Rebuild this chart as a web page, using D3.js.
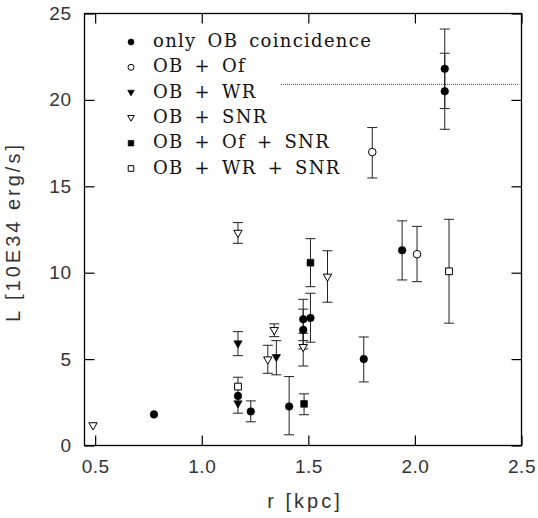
<!DOCTYPE html>
<html>
<head>
<meta charset="utf-8">
<script src="https://cdn.jsdelivr.net/npm/d3@7"></script>
<style>
  body { margin: 0; background: #fff; }
  .tick text { font-family: "Liberation Sans", Arial, sans-serif; font-size: 19px; fill: #333; letter-spacing: 0.5px; }
  .legend text { font-family: "DejaVu Serif", serif; font-size: 18px; fill: #111; letter-spacing: 1.3px; word-spacing: 4px; }
  .axisTitle { font-family: "Liberation Sans", Arial, sans-serif; font-size: 20px; fill: #333; letter-spacing: 3px; }
</style>
</head>
<body>
<svg id="chart" width="538" height="518"></svg>
<script>
//////////////////// DATA ////////////////////
// each row: [r, L, Llow, Lhigh]  (null = no error bar)
const onlyOB = [
    [0.776, 1.8, null, null],
    [1.17, 2.87, 1.87, 3.95],
    [1.23, 1.97, 1.37, 2.58],
    [1.41, 2.26, 0.62, 3.99],
    [1.476, 7.31, 6.07, 8.46],
    [1.476, 6.69, 5.59, 7.89],
    [1.51, 7.38, 5.98, 8.81],
    [1.76, 5.0, 3.68, 6.28],
    [1.94, 11.3, 9.58, 13.0],
    [2.14, 21.8, 19.5, 24.1],
    [2.14, 20.5, 18.3, 22.7]
];
const obOf = [
    [1.80, 16.98, 15.48, 18.4],
    [2.01, 11.07, 9.48, 12.68]
];
const obWR = [
    [1.17, 5.88, 5.2, 6.59],
    [1.17, 2.41, null, null],
    [1.35, 5.09, 4.09, 6.07]
];
const obSNR = [
    [0.49, 1.14, null, null],
    [1.17, 12.28, 11.7, 12.9],
    [1.31, 4.95, 4.18, 5.8],
    [1.34, 6.65, 6.3, 7.04],
    [1.476, 5.67, 4.6, 6.5],
    [1.59, 9.74, 8.29, 11.27]
];
const obOfSNR = [
    [1.51, 10.58, 9.19, 11.97],
    [1.48, 2.41, 1.78, 2.99]
];
const obWRSNR = [
    [1.17, 3.41, null, null],
    [2.16, 10.08, 7.08, 13.09]
];
// horizontal dotted reference line: [r start, r end, L]
const refLine = [1.372, 2.49, 20.9];

const xTicks = [0.5, 1.0, 1.5, 2.0, 2.5];
const yTicks = [0, 5, 10, 15, 20, 25];

const series = [
    { label: "only OB coincidence", data: onlyOB, shape: "circle", filled: true },
    { label: "OB + Of", data: obOf, shape: "circle", filled: false },
    { label: "OB + WR", data: obWR, shape: "triangle", filled: true },
    { label: "OB + SNR", data: obSNR, shape: "triangle", filled: false },
    { label: "OB + Of + SNR", data: obOfSNR, shape: "square", filled: true },
    { label: "OB + WR + SNR", data: obWRSNR, shape: "square", filled: false }
];

//////////////////// SIZES ////////////////////
const plot = { left: 84.5, right: 521.5, top: 13.5, bottom: 445.5 };

const svg = d3.select("#chart");

const xScale = d3.scaleLinear().domain([0.45, 2.5]).range([plot.left, plot.right]);
const yScale = d3.scaleLinear().domain([0, 25]).range([plot.bottom, plot.top]);

//////////////////// MARKERS ////////////////////
function markerPath(shape, s) {
    // s = half size
    if (shape === "circle") {
        return `M${-s},0A${s},${s} 0 1,0 ${s},0A${s},${s} 0 1,0 ${-s},0Z`;
    }
    if (shape === "square") {
        return `M${-s},${-s}H${s}V${s}H${-s}Z`;
    }
    // downward triangle
    return `M${-s * 1.1},${-s * 0.8}L${s * 1.1},${-s * 0.8}L0,${s * 1.1}Z`;
}

function drawMarker(g, shape, filled, s) {
    g.append("path")
        .attr("d", markerPath(shape, s))
        .attr("fill", filled ? "#000" : "#fff")
        .attr("stroke", "#000")
        .attr("stroke-width", filled ? 0.6 : 1);
}

//////////////////// AXES ////////////////////
const axisG = svg.append("g");

const bottomAxis = d3.axisBottom(xScale).tickValues(xTicks).tickSizeInner(-10).tickSizeOuter(0)
    .tickPadding(14).tickFormat(d3.format(".1f"));
axisG.append("g").attr("transform", `translate(0,${plot.bottom})`).call(bottomAxis);

const topAxis = d3.axisTop(xScale).tickValues(xTicks).tickSizeInner(-10).tickSizeOuter(0).tickFormat("");
axisG.append("g").attr("transform", `translate(0,${plot.top})`).call(topAxis);

const leftAxis = d3.axisLeft(yScale).tickValues(yTicks).tickSizeInner(-10).tickSizeOuter(0)
    .tickPadding(13).tickFormat(d3.format("d"));
axisG.append("g").attr("transform", `translate(${plot.left},0)`).call(leftAxis);

const rightAxis = d3.axisRight(yScale).tickValues(yTicks).tickSizeInner(-10).tickSizeOuter(0).tickFormat("");
axisG.append("g").attr("transform", `translate(${plot.right},0)`).call(rightAxis);

axisG.selectAll(".domain").remove();
axisG.selectAll(".tick line").attr("stroke", "#000").attr("stroke-width", 1.2);

// frame
svg.append("rect")
    .attr("x", plot.left).attr("y", plot.top)
    .attr("width", plot.right - plot.left).attr("height", plot.bottom - plot.top)
    .attr("fill", "none").attr("stroke", "#000").attr("stroke-width", 1.3);

// axis titles
svg.append("text").attr("class", "axisTitle")
    .attr("x", 305).attr("y", 503)
    .attr("text-anchor", "middle").attr("dominant-baseline", "middle")
    .text("r [kpc]");

svg.append("text").attr("class", "axisTitle")
    .attr("transform", "translate(15,232) rotate(-90)")
    .attr("text-anchor", "middle").attr("dominant-baseline", "middle")
    .text("L [10E34 erg/s]");

//////////////////// REFERENCE LINE ////////////////////
svg.append("line")
    .attr("x1", xScale(refLine[0])).attr("x2", xScale(refLine[1]))
    .attr("y1", yScale(refLine[2])).attr("y2", yScale(refLine[2]))
    .attr("stroke", "#444").attr("stroke-width", 1).attr("stroke-dasharray", "1,1");

//////////////////// DATA POINTS ////////////////////
const capHalf = 5;
const pointsG = svg.append("g");

series.forEach(ser => {
    ser.data.forEach(d => {
        const [r, L, lo, hi] = d;
        const cx = xScale(r);
        if (lo !== null) {
            const eg = pointsG.append("g").attr("stroke", "#222").attr("stroke-width", 1);
            eg.append("line").attr("x1", cx).attr("x2", cx).attr("y1", yScale(lo)).attr("y2", yScale(hi));
            [lo, hi].forEach(v => {
                eg.append("line").attr("x1", cx - capHalf).attr("x2", cx + capHalf)
                    .attr("y1", yScale(v)).attr("y2", yScale(v));
            });
        }
    });
});

series.forEach(ser => {
    ser.data.forEach(d => {
        const g = pointsG.append("g").attr("transform", `translate(${xScale(d[0])},${yScale(d[1])})`);
        const s = ser.shape === "circle" ? 3.8 : (ser.shape === "square" ? 3.4 : 3.8);
        drawMarker(g, ser.shape, ser.filled, s);
    });
});

//////////////////// LEGEND ////////////////////
const legend = svg.append("g").attr("class", "legend");
series.forEach((ser, i) => {
    const y = 42 + i * 25.3;
    const g = legend.append("g").attr("transform", `translate(131,${y})`);
    const s = ser.shape === "square" ? 2.8 : 3;
    drawMarker(g, ser.shape, ser.filled, s);
    legend.append("text")
        .attr("x", 153).attr("y", y)
        .attr("dominant-baseline", "middle")
        .text(ser.label);
});
</script>
</body>
</html>
